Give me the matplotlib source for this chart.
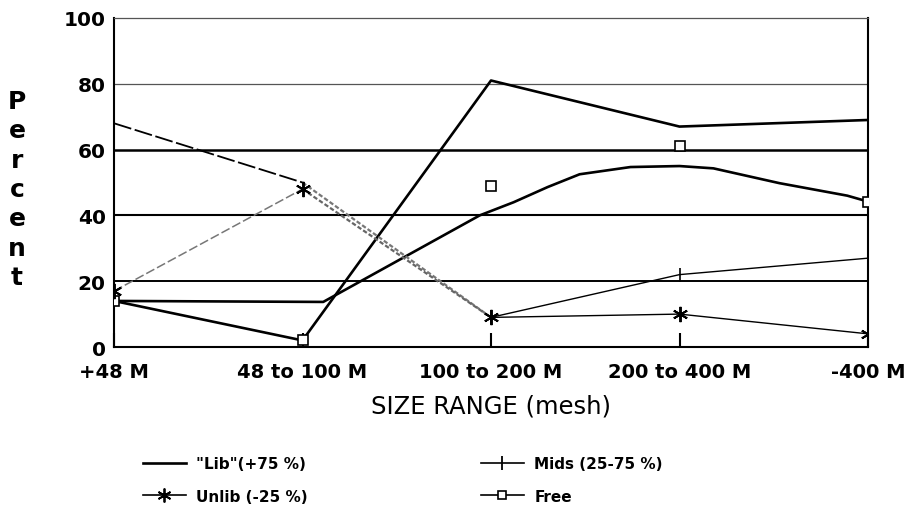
import matplotlib
matplotlib.use("Agg")
import matplotlib.pyplot as plt
from matplotlib.lines import Line2D

# ---- data ----
categories = ["+48 M", "48 to 100 M", "100 to 200 M", "200 to 400 M", "-400 M"]
lib_vals = [14, 2, 81, 67, 69]
mids_vals = [68, 50, 9, 22, 27]
unlib_vals = [17, 48, 9, 10, 4]
free_vals = [14, 2, 49, 61, 44]
# fitted trend curve drawn for "Free" (positions in category units)
free_curve_x = [0, 1.11, 1.94, 2.12, 2.30, 2.47, 2.74, 3.00, 3.18, 3.53, 3.89, 4.0]
free_curve_y = [14, 13.7, 40, 44, 48.6, 52.5, 54.7, 55, 54.3, 49.8, 46, 44.2]
yticks = [0, 20, 40, 60, 80, 100]

x = list(range(len(categories)))

fig = plt.figure(figsize=(9.14, 5.10), dpi=100)
ax = fig.add_axes([114/914, 1-348/510, (868-114)/914, (348-19)/510])
ax.set_xlim(0, 4)
ax.set_ylim(0, 100)

# horizontal grid lines
grid_w = {20: 1.4, 40: 1.5, 60: 1.8, 80: 0.9}
grid_c = {20: "black", 40: "black", 60: "black", 80: "#555555"}
for yv in yticks[1:-1]:
    ax.axhline(yv, color=grid_c[yv], lw=grid_w[yv], zorder=1)

# Lib
ax.plot(x, lib_vals, color="black", lw=1.9, zorder=3)
# Free trend curve and markers
ax.plot(free_curve_x, free_curve_y, color="black", lw=1.9, zorder=3)
ax.plot(x, free_vals, ls="none", marker="s", ms=7, mfc="white", mec="black", mew=1.2, zorder=4)
# Mids
ax.plot(x[0:2], mids_vals[0:2], color="black", lw=1.3, ls=(0, (10, 2)), zorder=3)
ax.plot(x[1:3], mids_vals[1:3], color="#777777", lw=1.6, ls=(0, (2, 1)), zorder=3)
ax.plot(x[2:], mids_vals[2:], color="black", lw=1.0, zorder=3)
ax.plot(x[2:], mids_vals[2:], ls="none", marker="|", ms=10, mew=1.2, color="black", zorder=4)
# Unlib
ax.plot(x[0:2], unlib_vals[0:2], color="#777777", lw=1.1, ls=(0, (6, 2)), zorder=3)
ax.plot(x[1:3], unlib_vals[1:3], color="#666666", lw=1.6, ls=(0, (2, 1)), zorder=3)
ax.plot(x[2:], unlib_vals[2:], color="black", lw=1.0, zorder=3)
ax.plot(x, unlib_vals, ls="none", marker=(6, 2, 0), ms=11, mew=1.4, color="black", zorder=4)

# spines
for s in ["left", "right", "bottom"]:
    ax.spines[s].set_linewidth(1.5)
    ax.spines[s].set_color("black")
ax.spines["top"].set_linewidth(0.9)
ax.spines["top"].set_color("#555555")

ax.set_yticks(yticks)
ax.set_yticklabels([str(v) for v in yticks], fontsize=14.5, fontweight="bold", family="DejaVu Sans")
ax.tick_params(axis="y", length=0, pad=6)
ax.set_xticks(x)
ax.set_xticklabels(categories, fontsize=14, fontweight="bold", family="DejaVu Sans")
ax.tick_params(axis="x", direction="in", length=10, width=1.5, pad=11)

ax.set_xlabel("SIZE RANGE (mesh)", fontsize=17.5, family="DejaVu Sans", labelpad=9)
ax.set_ylabel("P\ne\nr\nc\ne\nn\nt", rotation=0, fontsize=18, fontweight="bold",
              family="DejaVu Sans", linespacing=1.28, va="center", ha="center")
ax.yaxis.set_label_coords((17-114)/754, (348-190)/329)

handles = [
    Line2D([], [], color="black", lw=1.9),
    Line2D([], [], color="black", lw=1.2, marker=(6, 2, 0), ms=10, mew=1.3),
    Line2D([], [], color="black", lw=1.2, marker="|", ms=10, mew=1.3),
    Line2D([], [], color="black", lw=1.2, marker="s", ms=6, mfc="white", mec="black", mew=1.2),
]
labels = ['"Lib"(+75 %)', "Unlib (-25 %)", "Mids (25-75 %)", "Free"]
leg = fig.legend(handles, labels, loc="upper left", bbox_to_anchor=(143/914, 1-457/510),
                 ncol=2, frameon=False, prop={"family": "DejaVu Sans", "weight": "bold", "size": 11},
                 handlelength=2.8, handletextpad=0.7, columnspacing=11.3, labelspacing=1.15,
                 borderaxespad=0, borderpad=0)

fig.savefig("out.png", dpi=100)
